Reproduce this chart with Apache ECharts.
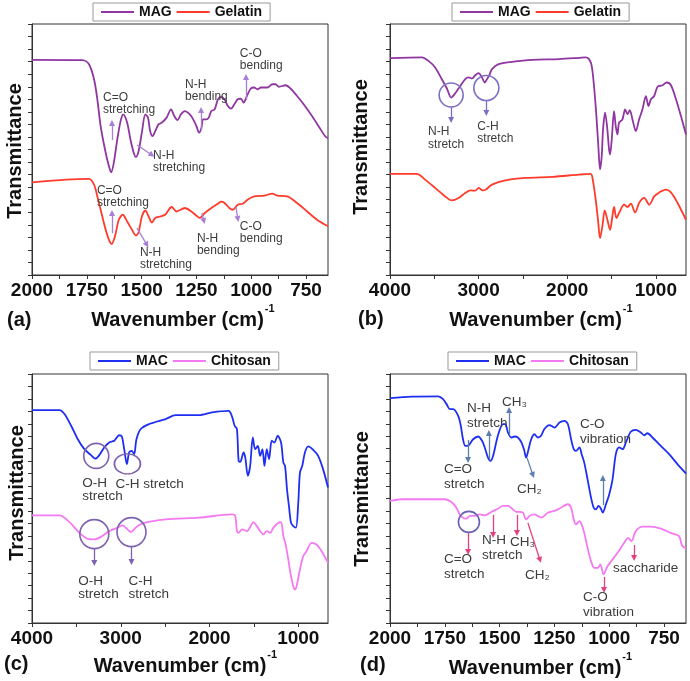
<!DOCTYPE html>
<html><head><meta charset="utf-8">
<script src="https://cdn.jsdelivr.net/npm/echarts@6/dist/echarts.min.js"></script>
<style>html,body{margin:0;padding:0;background:#fff}#c{width:690px;height:681px}</style>
</head><body><div id="c"></div>
<script>
// ---------- tick labels ----------
const shortLabels = [2000, 1750, 1500, 1250, 1000, 750];
const shortTicks = [2000, 1875, 1750, 1625, 1500, 1375, 1250, 1125, 1000, 875, 750];
const longLabels = [4000, 3000, 2000, 1000];
const longTicks = [4000, 3500, 3000, 2500, 2000, 1500, 1000];

// ---------- (a) MAG / Gelatin 2000-650 ----------
const aMag = [[2000,8.57],[1770,8.56],[1740,8.4],[1717,7.8],[1702,7.0],[1687,5.93],[1664,4.87],[1649,4.33],[1639,4.09],[1627,4.47],[1611,5.4],[1596,6.13],[1584,6.4],[1566,6.07],[1551,5.4],[1536,4.87],[1526,4.7],[1514,4.93],[1499,5.67],[1483,6.4],[1471,6.27],[1461,5.73],[1450,5.53],[1438,5.73],[1423,6.0],[1408,6.07],[1386,6.27],[1366,6.6],[1351,6.33],[1336,6.17],[1321,6.4],[1303,6.53],[1280,6.4],[1265,6.2],[1250,5.93],[1238,5.67],[1227,5.87],[1220,6.2],[1205,6.2],[1194,6.27],[1182,6.53],[1167,6.6],[1152,7.0],[1137,7.1],[1122,7.0],[1107,6.73],[1092,6.63],[1077,6.8],[1062,7.0],[1047,7.03],[1035,6.87],[1020,7.13],[1002,7.43],[987,7.47],[972,7.4],[956,7.47],[926,7.47],[904,7.6],[889,7.6],[874,7.5],[843,7.56],[821,7.43],[791,7.13],[761,6.8],[723,6.33],[693,5.93],[663,5.53],[650,5.45]];
const aGel = [[2000,3.69],[1845,3.8],[1740,3.83],[1717,3.6],[1702,3.13],[1687,2.6],[1664,1.8],[1649,1.4],[1637,1.24],[1622,1.53],[1604,2.2],[1586,2.4],[1566,2.13],[1544,1.8],[1526,1.57],[1514,1.69],[1499,2.33],[1483,2.57],[1468,2.33],[1453,2.09],[1438,2.27],[1416,2.33],[1393,2.4],[1363,2.71],[1341,2.53],[1303,2.67],[1273,2.53],[1250,2.36],[1235,2.27],[1212,2.47],[1182,2.67],[1152,2.84],[1137,2.92],[1122,2.87],[1100,2.67],[1084,2.6],[1062,2.8],[1039,2.84],[1017,3.0],[987,3.13],[941,3.16],[904,3.24],[881,3.16],[836,3.13],[791,2.87],[745,2.53],[700,2.2],[663,2.0],[650,1.95]];

// ---------- (b) MAG / Gelatin 4000-660 ----------
const bMag = [[4000,8.64],[3641,8.67],[3566,8.53],[3491,8.27],[3415,7.8],[3358,7.43],[3309,7.07],[3264,7.24],[3207,7.53],[3151,7.8],[3113,7.87],[3075,7.83],[3038,7.96],[3000,8.04],[2962,7.87],[2932,7.67],[2906,7.8],[2879,7.96],[2849,8.2],[2774,8.4],[2623,8.49],[2396,8.57],[2094,8.6],[1868,8.65],[1792,8.67],[1754,8.6],[1724,8.33],[1698,7.53],[1671,6.33],[1649,5.13],[1630,4.2],[1611,4.73],[1596,5.8],[1573,6.47],[1551,5.93],[1528,5.0],[1517,4.8],[1498,5.4],[1472,6.53],[1453,5.93],[1434,5.6],[1415,6.07],[1377,6.2],[1347,6.6],[1320,6.4],[1294,6.57],[1264,6.2],[1226,5.73],[1189,6.2],[1151,6.6],[1113,7.13],[1083,6.73],[1056,7.0],[1019,7.13],[981,7.5],[924,7.56],[879,7.67],[830,7.56],[773,7.0],[717,6.33],[660,5.6]];
const bGel = [[4000,4.03],[3698,4.03],[3604,3.8],[3491,3.47],[3377,3.13],[3302,2.97],[3226,3.07],[3151,3.27],[3094,3.37],[3038,3.36],[3000,3.47],[2955,3.37],[2917,3.41],[2849,3.6],[2698,3.77],[2472,3.87],[2170,3.91],[1868,4.0],[1736,4.03],[1709,3.73],[1679,3.0],[1653,2.2],[1630,1.47],[1604,1.93],[1577,2.57],[1547,2.2],[1517,1.8],[1491,2.33],[1472,2.71],[1445,2.27],[1415,2.47],[1358,2.8],[1320,2.71],[1283,2.84],[1234,2.49],[1189,2.87],[1132,3.07],[1075,2.8],[1019,3.13],[962,3.29],[887,3.4],[830,3.29],[755,2.87],[660,2.2]];

// ---------- (c) MAC / Chitosan 4000-665 ----------
const cMac = [[4000,8.55],[3690,8.55],[3634,8.39],[3559,7.92],[3484,7.38],[3410,6.98],[3335,6.74],[3286,6.6],[3242,6.74],[3186,7.05],[3130,7.25],[3073,7.32],[3017,7.54],[2988,7.49],[2961,6.98],[2931,6.38],[2905,6.85],[2875,6.91],[2849,6.78],[2823,7.38],[2775,7.79],[2681,7.99],[2494,8.19],[2382,8.35],[2121,8.35],[1971,8.46],[1785,8.52],[1747,8.3],[1717,7.92],[1691,7.79],[1672,6.51],[1654,6.47],[1616,6.85],[1597,6.64],[1568,5.91],[1542,6.31],[1512,7.45],[1486,6.98],[1456,7.11],[1430,6.71],[1404,6.98],[1381,6.31],[1355,6.98],[1329,6.58],[1299,7.32],[1269,7.25],[1232,7.52],[1194,7.25],[1168,6.44],[1149,6.31],[1127,5.37],[1105,4.7],[1082,4.03],[1056,3.89],[1026,3.83],[1000,4.83],[981,6.04],[955,6.31],[925,6.85],[888,7.09],[832,6.95],[776,6.71],[720,6.17],[665,5.44]];
const cChi = [[4000,4.32],[3690,4.32],[3578,4.05],[3466,3.62],[3372,3.38],[3298,3.36],[3223,3.46],[3130,3.69],[3036,3.83],[2980,3.92],[2924,3.76],[2887,3.65],[2831,3.83],[2756,4.0],[2494,4.16],[2121,4.23],[1747,4.36],[1710,4.3],[1691,3.69],[1672,3.62],[1635,3.76],[1579,3.69],[1504,4.05],[1467,3.89],[1430,3.69],[1392,3.56],[1355,3.69],[1317,3.62],[1280,3.83],[1224,4.03],[1194,4.05],[1168,3.49],[1142,3.15],[1112,2.55],[1082,1.88],[1056,1.48],[1037,1.34],[1019,1.48],[981,2.15],[944,2.68],[906,2.89],[850,3.22],[794,3.15],[739,2.89],[665,2.42]];

// ---------- (d) MAC / Chitosan 2000-650 ----------
const dMac = [[2000,9.03],[1902,9.09],[1780,9.1],[1758,8.99],[1742,8.79],[1727,8.59],[1712,8.59],[1689,8.32],[1677,7.92],[1667,7.38],[1656,7.11],[1641,7.14],[1621,7.38],[1598,7.49],[1580,7.32],[1568,7.05],[1553,6.64],[1542,6.51],[1530,6.71],[1508,7.52],[1485,7.99],[1474,7.99],[1462,7.65],[1447,7.45],[1432,7.49],[1417,7.45],[1402,7.28],[1389,6.98],[1379,6.64],[1368,6.98],[1356,7.38],[1341,7.58],[1326,7.45],[1311,7.52],[1296,7.79],[1273,7.95],[1250,7.85],[1227,8.05],[1205,8.12],[1189,7.99],[1174,7.38],[1162,6.98],[1152,6.91],[1136,7.05],[1126,6.78],[1114,6.44],[1099,5.77],[1083,5.03],[1071,4.63],[1061,4.56],[1049,4.7],[1038,4.59],[1030,4.43],[1015,4.77],[1000,5.17],[985,5.77],[970,6.78],[955,7.05],[939,6.98],[924,7.25],[902,7.68],[879,7.76],[856,7.65],[841,7.54],[826,7.62],[803,7.45],[765,7.11],[727,6.78],[689,6.38],[650,6.0]];
const dChi = [[2000,4.9],[1947,4.97],[1750,4.97],[1720,4.86],[1697,4.63],[1682,4.36],[1667,4.23],[1652,4.19],[1636,4.3],[1614,4.3],[1591,4.36],[1568,4.32],[1538,4.46],[1508,4.59],[1485,4.7],[1462,4.7],[1439,4.56],[1424,4.46],[1409,4.46],[1394,4.43],[1379,4.16],[1364,4.3],[1341,4.36],[1311,4.23],[1280,4.43],[1250,4.5],[1220,4.63],[1189,4.77],[1174,4.63],[1162,4.16],[1152,3.96],[1136,4.09],[1126,3.96],[1114,3.62],[1099,3.02],[1083,2.48],[1068,2.21],[1053,2.21],[1041,2.35],[1026,1.95],[1008,2.28],[985,2.55],[962,2.82],[932,3.22],[914,3.42],[899,3.29],[879,3.69],[848,3.87],[811,3.87],[765,3.79],[720,3.62],[682,3.49],[667,3.09],[650,3.0]];

// ---------- annotations (data coordinates) ----------
const aTexts = [['C=O\nstretching',1676,6.81],['N-H\nstretching',1448,4.5],['N-H\nbending',1302,7.33],['C-O\nbending',1052,8.57],['C=O\nstretching',1704,3.11],['N-H\nstretching',1508,0.64],['N-H\nbending',1248,1.2],['C-O\nbending',1052,1.67]];
const aArrows = [[1635,5.38,1635,6.06],[1521,5.18,1453,4.78],[1229,5.78,1229,6.57],[1024,6.97,1024,7.89],[1635,1.67,1635,2.47],[1521,1.87,1476,1.2],[1225,2.47,1216,2.15],[1070,2.71,1061,2.23]];
const bTexts = [['N-H\nstretch',3570,5.46],['C-H\nstretch',3015,5.66]];
const bCircles = [[3310,7.17,24,24],[2913,7.45,25,25]];
const bArrows = [[3310,6.69,3310,6.18],[2913,6.97,2913,6.45]];
const cTexts = [['O-H\nstretch',3434,5.34],['C-H stretch',3060,5.58],['O-H\nstretch',3479,1.41],['C-H\nstretch',2913,1.41]];
const cCircles = [[3276,6.71,25,25],[2925,6.39,26,20],[3298,3.57,29,29],[2879,3.65,29,29]];
const cArrows = [[3298,3.01,3298,2.41],[2879,3.05,2879,2.45]];
const dTexts = [['N-H\nstretch',1649,8.31],['CH\u2083',1489,8.88],['C=O\nstretch',1754,5.86],['CH\u2082',1421,5.38],['C-O\nvibration',1134,7.67],['C=O\nstretch',1754,2.25],['N-H\nstretch',1580,3.01],['CH\u2083',1453,3.25],['CH\u2082',1384,1.93],['C-O\nvibration',1120,0.72],['saccharide',983,2.21]];
const dCircles = [[1640,4.06,21,21]];
const dMacArrows = [[1549,6.55,1549,7.63],[1457,7.55,1457,8.55],[1644,7.35,1644,6.55],[1375,6.63,1348,5.94],[1029,4.74,1029,5.82]];
const dChiArrows = [[1644,3.65,1644,2.85],[1530,4.34,1530,3.53],[1421,4.34,1421,3.61],[1371,4.02,1316,2.53],[1024,1.85,1024,1.33],[887,3.13,887,2.61]];

// ---------- chart ----------
const FONT = '"Liberation Sans", Arial, sans-serif';
const C_MAG = '#8f36a1', C_GEL = '#ff3b2b', C_MAC = '#1f2ff2', C_CHI = '#f47af2';
const chart = echarts.init(document.getElementById('c'), null, {renderer: 'canvas', width: 690, height: 681});

const grids = [
  {left: 32, top: 24, width: 296, height: 251},
  {left: 390, top: 24, width: 296, height: 251},
  {left: 32, top: 374, width: 296, height: 249},
  {left: 390, top: 374, width: 296, height: 249}
];
const xMin = [650, 660, 665, 650], xMax = [2000, 4000, 4000, 2000];
const xLab = [shortLabels, longLabels, longLabels, shortLabels];
const xTk = [shortTicks, longTicks, longTicks, shortTicks];

function arrows(list, color) {
  return {silent: true, symbol: ['none', 'triangle'], symbolSize: 6, label: {show: false},
    lineStyle: {color: color, width: 1.3, type: 'solid'}, emphasis: {disabled: true}, animation: false,
    data: list.map(a => [{coord: [a[0], a[1]], itemStyle: {color: color}}, {coord: [a[2], a[3]], itemStyle: {color: color}}])};
}
function circles(list, color) {
  return {silent: true, label: {show: false}, animation: false,
    data: list.map(c => ({coord: [c[0], c[1]], symbol: 'circle', symbolSize: [c[2], c[3]],
      itemStyle: {color: 'rgba(0,0,0,0)', borderColor: color, borderWidth: 1.6}}))};
}
function line(name, data, color, gi, extra) {
  return Object.assign({name: name, type: 'line', xAxisIndex: gi, yAxisIndex: gi, data: data, symbol: 'none',
    smooth: 0.3, lineStyle: {color: color, width: 1.8}, itemStyle: {color: color}, silent: true, animation: false}, extra || {});
}

const legendBase = {orient: 'horizontal', icon: 'rect', itemWidth: 33, itemHeight: 2, itemGap: 5, padding: [2, 8, 2, 8],
  borderColor: '#999', borderWidth: 1, textStyle: {fontWeight: 'bold', fontSize: 14, color: '#111', fontFamily: FONT}};

const option = {
  backgroundColor: '#fff',
  animation: false,
  grid: grids.map(g => Object.assign({show: true, borderColor: '#333', borderWidth: 1, backgroundColor: 'transparent'}, g)),
  xAxis: grids.map((g, i) => ({gridIndex: i, type: 'value', inverse: true, min: xMin[i], max: xMax[i],
    axisLine: {show: true, onZero: false, lineStyle: {color: '#333', width: 1}},
    axisTick: {show: true, customValues: xTk[i], length: 4, lineStyle: {color: '#333'}},
    axisLabel: {show: true, customValues: xLab[i], formatter: v => String(v), fontSize: 19, fontWeight: 'bold', color: '#111', fontFamily: FONT, margin: 6},
    splitLine: {show: false}})),
  yAxis: grids.map((g, i) => ({gridIndex: i, type: 'value', min: 0, max: 10, interval: 0.5,
    axisLine: {show: true, onZero: false, lineStyle: {color: '#333', width: 1}},
    axisTick: {show: true, length: 4, lineStyle: {color: '#333'}},
    axisLabel: {show: false}, splitLine: {show: false}})),
  legend: [
    Object.assign({}, legendBase, {data: ['MAG', 'Gelatin'], left: 93, top: 3}),
    Object.assign({}, legendBase, {data: ['MAG', 'Gelatin'], left: 452, top: 3}),
    Object.assign({}, legendBase, {data: ['MAC', 'Chitosan'], left: 90, top: 352}),
    Object.assign({}, legendBase, {data: ['MAC', 'Chitosan'], left: 448, top: 352})
  ],
  series: [
    line('MAG', aMag, C_MAG, 0, {markLine: arrows(aArrows, '#a77fd6')}),
    line('Gelatin', aGel, C_GEL, 0),
    line('MAG', bMag, C_MAG, 1, {markLine: arrows(bArrows, '#7b6fc6'), markPoint: circles(bCircles, '#7b6fc6')}),
    line('Gelatin', bGel, C_GEL, 1),
    line('MAC', cMac, C_MAC, 2, {markLine: arrows(cArrows, '#7d62b0'), markPoint: circles(cCircles, '#7d62b0')}),
    line('Chitosan', cChi, C_CHI, 2),
    line('MAC', dMac, C_MAC, 3, {markLine: arrows(dMacArrows, '#5c7fae')}),
    line('Chitosan', dChi, C_CHI, 3, {markLine: arrows(dChiArrows, '#e6407f'), markPoint: circles(dCircles, '#6a5fb0')})
  ]
};
chart.setOption(option);

// ---------- texts placed from data coordinates ----------
const graphics = [];
const noteStyle = [
  {size: 12, lh: 12},
  {size: 12, lh: 12.5},
  {size: 13.5, lh: 13},
  {size: 13.5, lh: 15}
];
[aTexts, bTexts, cTexts, dTexts].forEach((list, gi) => {
  list.forEach(t => {
    const p = chart.convertToPixel({gridIndex: gi}, [t[1], t[2]]);
    graphics.push({type: 'text', x: p[0], y: p[1], silent: true, z: 10,
      style: {text: t[0], fill: '#3c3c3c', font: noteStyle[gi].size + 'px ' + FONT, lineHeight: noteStyle[gi].lh,
        textAlign: 'left', textVerticalAlign: 'middle'}});
  });
});

// axis titles and panel letters
const canvas = document.createElement('canvas');
const ctx = canvas.getContext('2d');
ctx.font = 'bold 20px ' + FONT;
const wTitle = ctx.measureText('Wavenumber (cm)').width;
const titles = [
  {cx: 177.5, cy: 320, letter: '(a)', lx: 7, ly: 320, tx: 15, ty: 151},
  {cx: 535.5, cy: 320, letter: '(b)', lx: 358, ly: 319, tx: 361, ty: 147},
  {cx: 180, cy: 666, letter: '(c)', lx: 4, ly: 664, tx: 17, ty: 493},
  {cx: 535, cy: 668, letter: '(d)', lx: 360, ly: 665, tx: 362, ty: 499}
];
titles.forEach(t => {
  graphics.push({type: 'text', x: t.cx, y: t.cy, silent: true,
    style: {text: 'Wavenumber (cm)', fill: '#111', font: 'bold 20px ' + FONT, textAlign: 'center', textVerticalAlign: 'middle'}});
  graphics.push({type: 'text', x: t.cx + wTitle / 2 + 1, y: t.cy - 11, silent: true,
    style: {text: '-1', fill: '#111', font: 'bold 11px ' + FONT, textAlign: 'left', textVerticalAlign: 'middle'}});
  graphics.push({type: 'text', x: t.lx, y: t.ly, silent: true,
    style: {text: t.letter, fill: '#111', font: 'bold 20px ' + FONT, textAlign: 'left', textVerticalAlign: 'middle'}});
  graphics.push({type: 'text', x: t.tx, y: t.ty, rotation: Math.PI / 2, silent: true,
    style: {text: 'Transmittance', fill: '#111', font: 'bold 20px ' + FONT, textAlign: 'center', textVerticalAlign: 'middle'}});
});
chart.setOption({graphic: graphics});
</script></body></html>
